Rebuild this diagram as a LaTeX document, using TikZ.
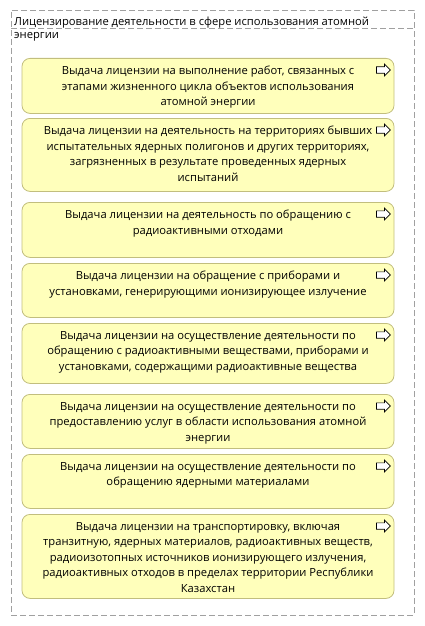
\documentclass[tikz,border=0pt]{standalone}
\usepackage{fontspec}
\setmainfont{Open Sans}
\usepackage{tikz}
\usetikzlibrary{positioning,shapes.arrows}
\definecolor{licfill}{HTML}{FFFFBB}
\definecolor{licline}{HTML}{C2BE7E}
\definecolor{frameline}{HTML}{A0A0A0}
\begin{document}
\begin{tikzpicture}[x=1pt, y=-1pt,
        framed/.style={draw=frameline, line width=0.9pt, dash pattern=on 6pt off 3pt},
        lic/.style={draw=licline, fill=licfill, line width=0.8pt, rounded corners=8pt,
          anchor=north, minimum width=372pt, inner sep=0pt},
        lictxt/.style={align=center, inner sep=0pt, font=\fontsize{11.2}{15.5}\selectfont},
        go/.style={single arrow, draw=black, fill=white, line width=0.7pt,
          inner xsep=0pt, inner ysep=2.8pt,
          minimum height=14pt, single arrow head extend=2.8pt,
          single arrow tip angle=90, anchor=tip}
        ]
        \useasboundingbox (0,0) rectangle (424,626);
        % frame with header
        \node[framed, minimum width=403pt, minimum height=605pt, inner sep=0pt] (F) at (212.5,312.5) {};
        \coordinate (hl) at (11,28);
        \coordinate (hr) at (414,28);
        \draw[framed] (hl) -- (hr);
        \node[anchor=north west, align=left, inner sep=0pt,
          font=\fontsize{11.2}{13}\selectfont] (title) at (14,17)
          {Лицензирование деятельности в сфере использования атомной\\энергии};
        % licence boxes
        \node[lic, minimum height=55pt] (L1) at (208,58) {};
        \node[lic, minimum height=73pt] (L2) at (208,118) {};
        \node[lic, minimum height=55pt] (L3) at (208,202) {};
        \node[lic, minimum height=54pt] (L4) at (208,263) {};
        \node[lic, minimum height=60pt] (L5) at (208,323) {};
        \node[lic, minimum height=54pt] (L6) at (208,394) {};
        \node[lic, minimum height=54pt] (L7) at (208,454) {};
        \node[lic, minimum height=84pt] (L8) at (208,514) {};
        \node[lictxt, below=8pt of L1.north] (T1) {Выдача лицензии на выполнение работ, связанных с\\
          этапами жизненного цикла объектов использования\\ атомной энергии};
        \node[lictxt, below=8pt of L2.north] (T2) {Выдача лицензии на деятельность на территориях бывших\\
          испытательных ядерных полигонов и других территориях,\\
          загрязненных в результате проведенных ядерных\\ испытаний};
        \node[lictxt, below=8pt of L3.north] (T3) {Выдача лицензии на деятельность по обращению с\\
          радиоактивными отходами};
        \node[lictxt, below=8pt of L4.north] (T4) {Выдача лицензии на обращение с приборами и\\
          установками, генерирующими ионизирующее излучение};
        \node[lictxt, below=8pt of L5.north] (T5) {Выдача лицензии на осуществление деятельности по\\
          обращению с радиоактивными веществами, приборами и\\
          установками, содержащими радиоактивные вещества};
        \node[lictxt, below=8pt of L6.north] (T6) {Выдача лицензии на осуществление деятельности по\\
          предоставлению услуг в области использования атомной\\ энергии};
        \node[lictxt, below=8pt of L7.north] (T7) {Выдача лицензии на осуществление деятельности по\\
          обращению ядерными материалами};
        \node[lictxt, below=8pt of L8.north] (T8) {Выдача лицензии на транспортировку, включая\\
          транзитную, ядерных материалов, радиоактивных веществ,\\
          радиоизотопных источников ионизирующего излучения,\\
          радиоактивных отходов в пределах территории Республики\\ Казахстан};
        % arrow icons
        \foreach \i in {1,...,8}
          \node[go] (A\i) at ([xshift=-3.5pt, yshift=-12pt]L\i.north east) {};
      \end{tikzpicture}
\end{document}
